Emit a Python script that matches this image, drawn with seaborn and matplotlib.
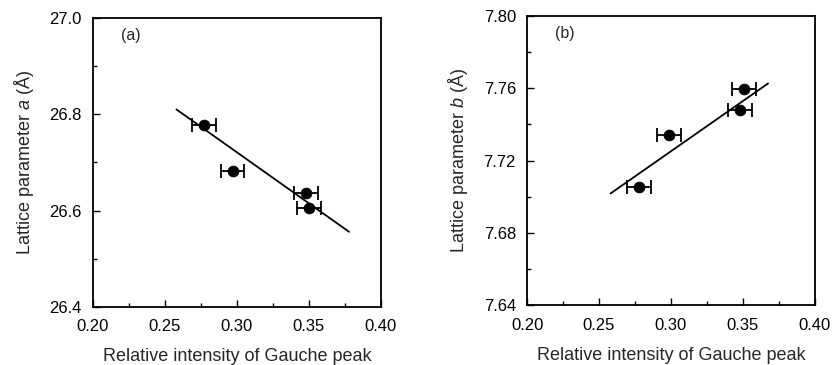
import numpy as np
import pandas as pd
import matplotlib
matplotlib.use("Agg")
import matplotlib.pyplot as plt
import seaborn as sns
from matplotlib.ticker import MultipleLocator

# data
gauche_a = [0.277, 0.297, 0.348, 0.350]
lattice_a = [26.777, 26.682, 26.636, 26.606]
gauche_b = [0.351, 0.348, 0.2985, 0.278]
lattice_b = [7.7597, 7.748, 7.734, 7.7055]
xerr = [0.0083, 0.0083, 0.0083, 0.0083]

fit_a_x = [0.258, 0.378]
fit_a_y = [26.81, 26.556]
fit_b_x = [0.258, 0.3675]
fit_b_y = [7.7018, 7.7627]

sns.set_theme(style="ticks")
plt.rcParams["font.family"] = ["Liberation Sans", "DejaVu Sans"]
plt.rcParams["mathtext.fontset"] = "custom"
plt.rcParams["mathtext.it"] = "Liberation Sans:italic"
plt.rcParams["mathtext.rm"] = "Liberation Sans"

fig = plt.figure(figsize=(8.34, 3.65), dpi=100)
ax1 = fig.add_axes([0.1115, 0.159, 0.345, 0.792])
ax2 = fig.add_axes([0.632, 0.164, 0.345, 0.792])

panels = [
    (ax1, gauche_a, lattice_a, fit_a_x, fit_a_y, (26.4, 27.0), 0.2, 0.1,
     "{:.1f}", r"Lattice parameter $a$ ($\mathrm{\AA}$)", "(a)"),
    (ax2, gauche_b, lattice_b, fit_b_x, fit_b_y, (7.64, 7.80), 0.04, 0.02,
     "{:.2f}", r"Lattice parameter $b$ ($\mathrm{\AA}$)", "(b)"),
]

for ax, gx, ly, fx, fy, ylim, major, minor, fmt, ylabel, tag in panels:
    df = pd.DataFrame({"x": gx, "y": ly})
    fit = pd.DataFrame({"x": fx, "y": fy})
    sns.lineplot(data=fit, x="x", y="y", ax=ax, color="black", lw=1.3)
    ax.errorbar(gx, ly, xerr=xerr, fmt="none", ecolor="black",
                elinewidth=1.3, capsize=5, capthick=1.3)
    sns.scatterplot(data=df, x="x", y="y", ax=ax, color="black", s=60,
                    edgecolor="black", zorder=5)

    ax.set_xlim(0.20, 0.40)
    ax.set_ylim(*ylim)
    ax.xaxis.set_minor_locator(MultipleLocator(0.025))
    ax.yaxis.set_minor_locator(MultipleLocator(minor))
    xt = np.arange(0.20, 0.4001, 0.05)
    ax.set_xticks(xt)
    ax.set_xticklabels(["{:.2f}".format(v) for v in xt])
    yt = np.arange(ylim[0], ylim[1] + 1e-6, major)
    ax.set_yticks(yt)
    ax.set_yticklabels([fmt.format(v) for v in yt])

    ax.tick_params(axis="both", which="major", direction="in", length=5,
                   width=1, labelsize=12, colors="black")
    ax.tick_params(axis="x", which="major", pad=9)
    ax.tick_params(axis="y", which="major", pad=8)
    ax.tick_params(axis="both", which="minor", direction="in", length=3,
                   width=1, colors="black")
    for side in ax.spines.values():
        side.set_visible(True)
        side.set_linewidth(1.3)
        side.set_color("black")

    ax.set_xlabel("Relative intensity of Gauche peak", fontsize=13, labelpad=10)
    ax.set_ylabel(ylabel, fontsize=13, labelpad=10)
    ax.text(0.13, 0.94, tag, transform=ax.transAxes, fontsize=11.5,
            ha="center", va="center")

fig.savefig("out.png", dpi=100, facecolor="white")
